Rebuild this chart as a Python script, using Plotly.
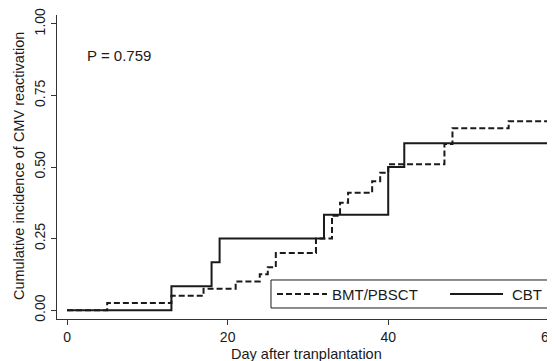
import plotly.graph_objects as go

# Data
cbt_days = [0, 13, 18, 19, 32, 40, 42, 60]
cbt_vals = [0, 0.083, 0.167, 0.25, 0.333, 0.5, 0.583, 0.583]

bmt_days = [0, 5, 13, 17, 21, 24, 25, 26, 31, 33, 34, 35, 38, 39, 40, 47, 48, 55, 60]
bmt_vals = [0, 0.025, 0.05, 0.075, 0.10, 0.125, 0.15, 0.20, 0.25, 0.33, 0.375, 0.41,
            0.45, 0.48, 0.51, 0.58, 0.635, 0.66, 0.66]

series_names = ["BMT/PBSCT", "CBT"]
x_ticks = [0, 20, 40, 60]
y_ticks = [0, 0.25, 0.5, 0.75, 1.0]
y_ticklabels = ["0.00", "0.25", "0.50", "0.75", "1.00"]

FONT = "Liberation Sans, Arial, sans-serif"
INK = "#1a1a1a"
DASH = "6px,3px"

# The page body adds an 8px margin; the figure is sized to fill the rest.
W, H = 547, 353

fig = go.Figure()
fig.add_trace(go.Scatter(
    x=bmt_days, y=bmt_vals, mode="lines", name=series_names[0],
    line=dict(shape="hv", color=INK, width=2, dash=DASH),
))
fig.add_trace(go.Scatter(
    x=cbt_days, y=cbt_vals, mode="lines", name=series_names[1],
    line=dict(shape="hv", color=INK, width=2),
))

fig.add_annotation(
    x=2.2, y=0.89, xref="x", yref="y", text="P = 0.759", showarrow=False,
    xanchor="left", yanchor="middle", font=dict(family=FONT, size=15, color=INK),
)

# Axis titles
fig.add_annotation(x=0.502, y=-0.115, xref="paper", yref="paper",
                   text="Day after tranplantation", showarrow=False,
                   xanchor="center", yanchor="middle",
                   font=dict(family=FONT, size=14.5, color=INK))
fig.add_annotation(x=-0.0763, y=0.503, xref="paper", yref="paper",
                   text="Cumulative incidence of CMV reactivation", showarrow=False,
                   textangle=-90, xanchor="center", yanchor="middle",
                   font=dict(family=FONT, size=14.5, color=INK))

# Legend box (Stata-style wide legend)
leg_y = 0.0822
fig.add_shape(type="rect", xref="paper", yref="paper",
              x0=0.4297, x1=0.990, y0=0.0362, y1=0.1283,
              line=dict(color=INK, width=1), fillcolor="white", layer="above")
fig.add_shape(type="line", xref="paper", yref="paper",
              x0=0.4418, x1=0.5422, y0=leg_y, y1=leg_y,
              line=dict(color=INK, width=2, dash=DASH), layer="above")
fig.add_shape(type="line", xref="paper", yref="paper",
              x0=0.7892, x1=0.8956, y0=leg_y, y1=leg_y,
              line=dict(color=INK, width=2), layer="above")
fig.add_annotation(x=0.549, y=leg_y, xref="paper", yref="paper", text=series_names[0],
                   showarrow=False, xanchor="left", yanchor="middle",
                   font=dict(family=FONT, size=15, color=INK))
fig.add_annotation(x=0.910, y=leg_y, xref="paper", yref="paper", text=series_names[1],
                   showarrow=False, xanchor="left", yanchor="middle",
                   font=dict(family=FONT, size=15, color=INK))

fig.update_layout(
    width=W, height=H,
    margin=dict(l=49, r=0, t=7, b=42),
    paper_bgcolor="white", plot_bgcolor="white",
    font=dict(family=FONT, size=14, color=INK),
    showlegend=False,
    xaxis=dict(
        range=[-1.25, 60.77], tickvals=x_ticks, showgrid=False, zeroline=False,
        showline=True, linecolor="#333", linewidth=1, automargin=False,
        ticks="outside", ticklen=5, tickcolor="#333", ticklabeloverflow="allow",
        tickfont=dict(family=FONT, size=14, color=INK),
    ),
    yaxis=dict(
        range=[-0.031, 1.031], tickvals=y_ticks, ticktext=y_ticklabels,
        showgrid=False, zeroline=False, automargin=False,
        showline=True, linecolor="#333", linewidth=1, ticklabeloverflow="allow",
        ticks="outside", ticklen=5, tickcolor="#333", tickangle=-90,
        tickfont=dict(family=FONT, size=14, color=INK),
    ),
)

fig.write_html("out.html")
